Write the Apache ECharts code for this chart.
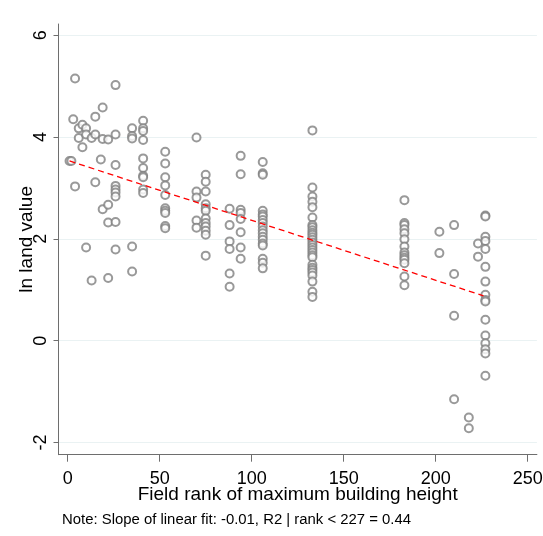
<!DOCTYPE html>
<html>
<head>
<meta charset="utf-8">
<script src="https://cdn.jsdelivr.net/npm/echarts@6/dist/echarts.min.js"></script>
<style>html,body{margin:0;padding:0;background:#fff}#c{width:543px;height:536px}</style>
</head>
<body>
<div id="c"></div>
<script>
// Field rank of maximum building height (distinct ranks)
var ranks = [1, 2, 3, 4, 6, 8, 10, 13, 15, 18, 19, 22, 26, 35, 41, 53, 70, 75, 88, 94, 106, 133, 183, 202, 210, 218, 223, 227];
// ln land value observed at each rank
var lnLand = [
  [3.53],
  [3.53],
  [4.35],
  [5.15, 3.03],
  [4.17, 3.98],
  [4.24, 3.80],
  [4.17, 4.05, 1.83],
  [3.98, 1.18],
  [4.40, 4.05, 3.11],
  [3.56],
  [4.58, 3.96, 2.58],
  [3.95, 2.67, 2.32, 1.23],
  [5.02, 4.05, 3.45, 3.04, 2.97, 2.91, 2.83, 2.33, 1.79],
  [4.17, 4.02, 3.97, 1.85, 1.36],
  [4.32, 4.17, 4.12, 3.94, 3.58, 3.39, 3.24, 3.21, 2.97, 2.90],
  [3.71, 3.48, 3.21, 3.05, 2.86, 2.60, 2.55, 2.51, 2.25, 2.21],
  [3.99, 2.93, 2.81, 2.36, 2.22],
  [3.26, 3.12, 2.93, 2.68, 2.60, 2.55, 2.40, 2.31, 2.24, 2.16, 2.08, 1.67],
  [2.59, 2.27, 1.95, 1.80, 1.32, 1.06],
  [3.63, 3.27, 2.57, 2.51, 2.39, 2.13, 1.83, 1.61],
  [3.51, 3.29, 3.26, 2.55, 2.48, 2.44, 2.37, 2.31, 2.24, 2.17, 2.11, 2.04, 1.98, 1.91, 1.87, 1.61, 1.53, 1.42],
  [4.13, 3.01, 2.83, 2.73, 2.62, 2.42, 2.27, 2.23, 2.17, 2.12, 2.08, 2.03, 1.98, 1.93, 1.88, 1.83, 1.78, 1.73, 1.68, 1.64, 1.49, 1.43, 1.39, 1.34, 1.28, 1.16, 0.96, 0.86],
  [2.76, 2.31, 2.27, 2.19, 2.11, 1.99, 1.85, 1.73, 1.68, 1.63, 1.59, 1.52, 1.26, 1.09],
  [2.14, 1.72],
  [2.27, 1.31, 0.49, -1.15],
  [-1.51, -1.72],
  [1.91, 1.65],
  [2.46, 2.44, 2.04, 1.96, 1.80, 1.45, 1.16, 0.90, 0.80, 0.77, 0.41, 0.10, -0.05, -0.17, -0.25, -0.69]
];
// linear fit (rank < 227), endpoints
var fitX = [1, 226];
var fitY = [3.53, 0.88];
// tick labels
var xTicks = [0, 50, 100, 150, 200, 250];
var yTicks = [-2, 0, 2, 4, 6];

var pts = [];
ranks.forEach(function (r, i) { lnLand[i].forEach(function (v) { pts.push([r, v]); }); });
var fit = fitX.map(function (x, i) { return [x, fitY[i]]; });

var FONT = '"Liberation Sans", Arial, sans-serif';
var chart = echarts.init(document.getElementById('c'), null, {renderer: 'canvas'});
chart.setOption({
  animation: false,
  backgroundColor: '#ffffff',
  grid: {left: 58.5, top: 24, width: 478.4, height: 430.7, containLabel: false, outerBoundsMode: 'none'},
  xAxis: {
    type: 'value', min: -5, max: 255,
    name: 'Field rank of maximum building height',
    nameLocation: 'middle', nameGap: 31, nameMoveOverlap: false,
    nameTextStyle: {fontFamily: FONT, fontSize: 19, color: '#000'},
    axisLine: {show: true, onZero: false, lineStyle: {color: '#6e6e6e', width: 1}},
    axisTick: {show: true, length: 7, lineStyle: {color: '#6e6e6e'}, customValues: xTicks},
    axisLabel: {fontFamily: FONT, fontSize: 18, color: '#000', margin: 15, customValues: xTicks},
    splitLine: {show: false}
  },
  yAxis: {
    type: 'value', min: -2.24, max: 6.22,
    name: 'ln land value',
    nameLocation: 'middle', nameGap: 22, nameRotate: 90, nameMoveOverlap: false,
    nameTextStyle: {fontFamily: FONT, fontSize: 19, color: '#000'},
    axisLine: {show: true, onZero: false, lineStyle: {color: '#6e6e6e', width: 1}},
    axisTick: {show: true, length: 5, lineStyle: {color: '#6e6e6e'}, customValues: yTicks},
    axisLabel: {fontFamily: FONT, fontSize: 18, color: '#000', rotate: 90, margin: 8, customValues: yTicks},
    splitLine: {show: true, lineStyle: {color: '#eaf2f3', width: 1}, customValues: yTicks}
  },
  graphic: [{
    type: 'text', left: 62, top: 512,
    style: {text: 'Note: Slope of linear fit: -0.01, R2 | rank < 227 = 0.44', fontFamily: FONT, fontSize: 14.9, fill: '#000'}
  }],
  series: [{
    type: 'scatter', data: pts, symbol: 'emptyCircle', symbolSize: 8,
    itemStyle: {color: '#808080', borderColor: '#808080', borderWidth: 1},
    z: 3
  }, {
    type: 'line', data: fit, symbol: 'none',
    lineStyle: {color: '#ff0000', width: 1.3, type: [6, 4]},
    z: 4
  }]
});
</script>
</body>
</html>
